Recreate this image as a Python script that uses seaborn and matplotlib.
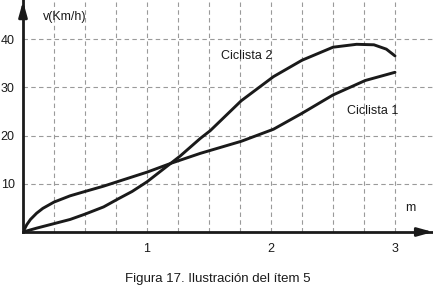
import matplotlib
matplotlib.use("Agg")
import matplotlib.pyplot as plt
import seaborn as sns

# ---- data ----
x_c1 = [0, 0.03, 0.06, 0.11, 0.16, 0.25, 0.38, 0.5, 0.65, 0.77, 1.0, 1.2, 1.43, 1.76, 2.02, 2.25, 2.5, 2.76, 3.0]
ciclista1 = [0, 1.5, 2.6, 3.9, 4.9, 6.2, 7.5, 8.4, 9.5, 10.5, 12.4, 14.3, 16.3, 18.8, 21.3, 24.6, 28.4, 31.4, 33.1]
x_c2 = [0, 0.11, 0.26, 0.38, 0.5, 0.65, 0.77, 0.88, 1.0, 1.2, 1.27, 1.43, 1.51, 1.76, 2.02, 2.25, 2.5, 2.69, 2.83, 2.93, 3.0]
ciclista2 = [0, 0.8, 1.8, 2.6, 3.7, 5.2, 6.9, 8.4, 10.4, 14.4, 15.8, 19.4, 21.0, 27.2, 32.2, 35.6, 38.3, 38.9, 38.8, 37.9, 36.5]
x_ticks = [0.25, 0.5, 0.75, 1.0, 1.25, 1.5, 1.75, 2.0, 2.25, 2.5, 2.75, 3.0]
x_tick_labels = ["", "", "", "1", "", "", "", "2", "", "", "", "3"]
y_ticks = [10, 20, 30, 40]
y_tick_labels = ["10", "20", "30", "40"]
y_label = "v(Km/h)"
x_label = "m"
label_c1 = "Ciclista 1"
label_c2 = "Ciclista 2"
caption = "Figura 17. Ilustración del ítem 5"

sns.set_style("white")
plt.rcParams['font.family'] = ['Liberation Sans', 'DejaVu Sans']
fs = 9
ink = '#1a1a1a'

fig = plt.figure(figsize=(4.33, 2.91), dpi=100)
ax = fig.add_axes([23/433, (291-232)/291, (433-23)/433, 232/291])
ax.set_xlim(0, 410/124)
ax.set_ylim(0, 232/4.825)

sns.lineplot(x=x_c1, y=ciclista1, ax=ax, color=ink, lw=2.1)
sns.lineplot(x=x_c2, y=ciclista2, ax=ax, color=ink, lw=2.1)
for l in ax.lines:
    l.set_solid_joinstyle('round')
    l.set_solid_capstyle('round')

ax.set_xticks(x_ticks)
ax.set_xticklabels(x_tick_labels)
ax.set_yticks(y_ticks)
ax.set_yticklabels(y_tick_labels)
ax.tick_params(axis='x', direction='out', length=5, width=1.2, pad=3, labelsize=fs, colors=ink)
ax.tick_params(axis='y', direction='inout', length=11, width=1.2, pad=0.5, labelsize=fs, colors=ink)

ax.grid(True, axis='both', color='#9a9a9a', lw=0.8, ls=(0, (4, 3)))
ax.set_axisbelow(True)

for s in ['top', 'right']:
    ax.spines[s].set_visible(False)
for s in ['left', 'bottom']:
    ax.spines[s].set_linewidth(2)
    ax.spines[s].set_color(ink)
    ax.spines[s].set_zorder(5)

ax.annotate('', xy=(1.0, 0), xytext=(0.96, 0), xycoords='axes fraction',
            arrowprops=dict(arrowstyle='-|>,head_length=0.9,head_width=0.25',
                            color=ink, lw=2, shrinkA=0, shrinkB=0),
            annotation_clip=False, zorder=6)
ax.annotate('', xy=(0, 0.995), xytext=(0, 0.93), xycoords='axes fraction',
            arrowprops=dict(arrowstyle='-|>,head_length=0.9,head_width=0.25',
                            color=ink, lw=2, shrinkA=0, shrinkB=0),
            annotation_clip=False, zorder=6)

tk = dict(fontsize=fs, color=ink)
ax.text(0.16, 44.6, y_label, ha='left', va='center', **tk)
ax.text(3.12, 5.0, x_label, ha='center', va='center', **tk)
ax.text(1.6, 36.5, label_c2, ha='left', va='center', **tk)
ax.text(2.61, 25.1, label_c1, ha='left', va='center', **tk)

fig.text(218/433, 1 - 279/291, caption, ha='center', va='center', fontsize=9.5, color=ink)

fig.savefig("out.png", dpi=100)
